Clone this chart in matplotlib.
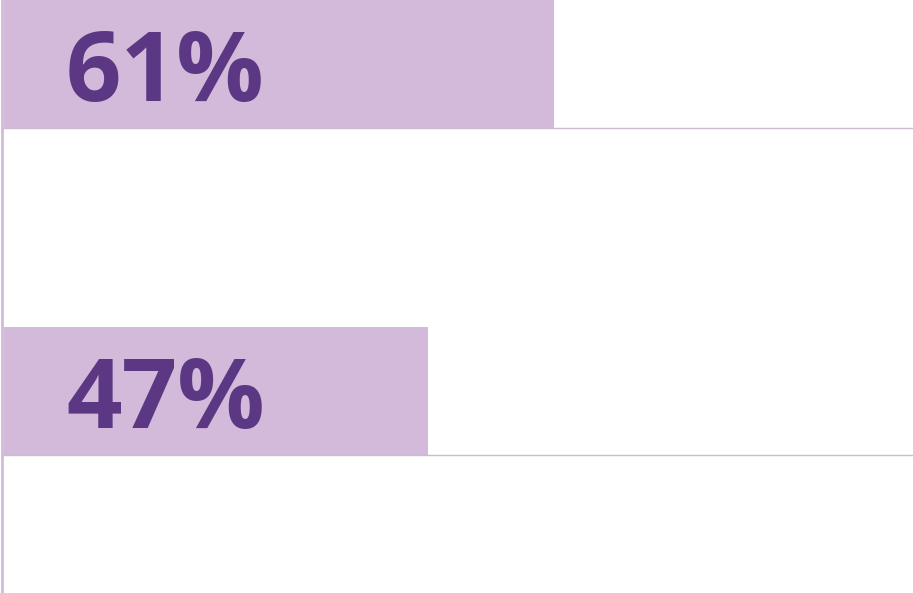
import matplotlib
matplotlib.use('Agg')
import matplotlib.pyplot as plt

# values shown on the bars (top to bottom)
labels = ['61%', '47%']
values = [61, 47]
positions = [1, 0]

barColor = '#d3bada'
textColor = '#5c3884'
lineColor = '#cbbad2'

fig = plt.figure(figsize=(9.13, 5.93), dpi=100)
ax = fig.add_axes([2 / 913, 0, 1 - 2 / 913, 1])

ax.barh(positions, values, height=0.39, color=barColor, left=0.25)

# thin rule under each bar
for p in positions:
    ax.axhline(p - 0.195, color=lineColor, linewidth=1.0)

for p, lab in zip(positions, labels):
    ax.text(7.1, p - 0.035, lab, color=textColor, fontsize=70, fontweight='bold',
            family='Open Sans', va='center', ha='left')

ax.set_xlim(0, 101)
ax.set_ylim(-0.618, 1.196)
ax.set_xticks([])
ax.set_yticks([])
for s in ['top', 'right', 'bottom']:
    ax.spines[s].set_visible(False)
ax.spines['left'].set_color(barColor)
ax.spines['left'].set_linewidth(2)

fig.savefig('out.png', dpi=100)
